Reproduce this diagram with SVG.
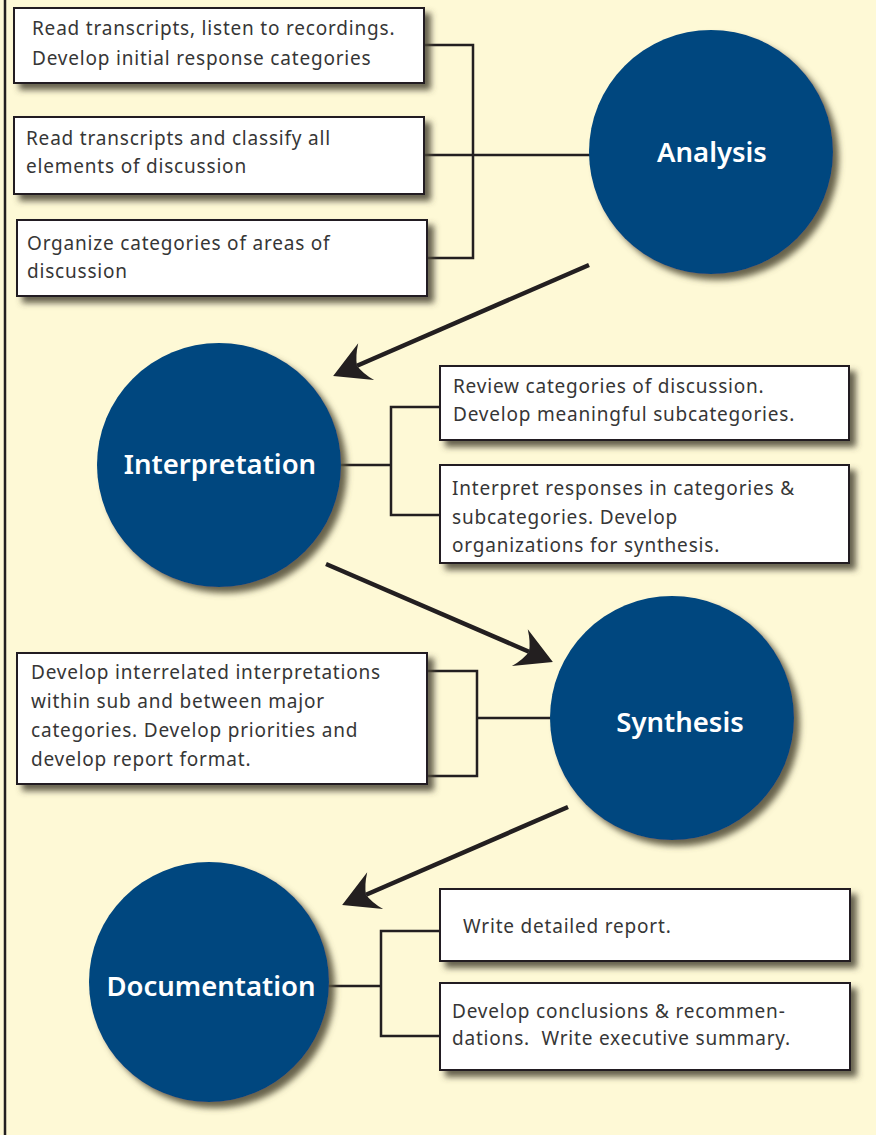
<svg xmlns="http://www.w3.org/2000/svg" width="876" height="1135" viewBox="0 0 876 1135">
<style>
.bg{fill:#FEF9D6}
.border{stroke:#231F20;stroke-width:2.5;fill:none}
.circ{fill:#03477F;filter:url(#cshadow)}
.box{fill:#FFFFFF;stroke:#231F20;stroke-width:2;filter:url(#bshadow)}
.ctext{font-family:"Noto Sans","Open Sans",sans-serif;font-size:27.5px;font-weight:600;fill:#FFFFFF;text-anchor:middle}
.btext{font-family:"Noto Sans","Open Sans",sans-serif;font-size:19px;fill:#363636;letter-spacing:0.8px}
.brk{stroke:#231F20;stroke-width:2.5;fill:none}
.arr{stroke:#231F20;stroke-width:4.5;fill:none;marker-end:url(#ah)}
</style>
<defs>
<filter id="cshadow" x="-20%" y="-20%" width="150%" height="150%">
<feGaussianBlur in="SourceAlpha" stdDeviation="3"/>
<feOffset dx="6" dy="6" result="b"/>
<feFlood flood-color="#57523C" flood-opacity="0.9"/>
<feComposite in2="b" operator="in"/>
<feMerge><feMergeNode/><feMergeNode in="SourceGraphic"/></feMerge>
</filter>
<filter id="bshadow" x="-10%" y="-20%" width="120%" height="150%">
<feGaussianBlur in="SourceAlpha" stdDeviation="3"/>
<feOffset dx="6" dy="6" result="b"/>
<feFlood flood-color="#4A4636" flood-opacity="0.85"/>
<feComposite in2="b" operator="in"/>
<feMerge><feMergeNode/><feMergeNode in="SourceGraphic"/></feMerge>
</filter>
<marker id="ah" viewBox="0 0 42 42" refX="15" refY="21" markerWidth="42" markerHeight="42" markerUnits="userSpaceOnUse" orient="auto">
<path d="M41,21 L5,1 Q13,12 15,21 Q13,30 5,41 Z" fill="#231F20"/>
</marker>
</defs>
<rect class="bg" x="0" y="0" width="876" height="1135"/>
<line class="border" x1="5" y1="0" x2="5" y2="1135"/>

<g id="connectors">
<path class="brk" d="M424,45 H473 V258 H427 M424,155 H592"/>
<path class="brk" d="M338,465 H391 M440,407 H391 V515 H440"/>
<path class="brk" d="M427,671 H477 V776 H427 M477,718 H553"/>
<path class="brk" d="M328,986 H381 M440,931 H381 V1036 H440"/>
<line class="arr" x1="589" y1="265" x2="357" y2="365.7"/>
<line class="arr" x1="326" y1="564" x2="529" y2="651.7"/>
<line class="arr" x1="568" y1="807" x2="366" y2="894.7"/>
</g>

<g id="analysis">
<circle class="circ" cx="711" cy="152" r="122"/>
<text class="ctext" x="712" y="162">Analysis</text>
</g>
<g id="interpretation">
<circle class="circ" cx="219" cy="465" r="122"/>
<text class="ctext" x="220" y="474">Interpretation</text>
</g>
<g id="synthesis">
<circle class="circ" cx="672" cy="718" r="122"/>
<text class="ctext" x="680" y="732">Synthesis</text>
</g>
<g id="documentation">
<circle class="circ" cx="209" cy="982" r="120"/>
<text class="ctext" x="211" y="996">Documentation</text>
</g>

<g id="box-a1">
<rect class="box" x="14" y="8" width="410" height="75"/>
<text class="btext" x="32" y="35">Read transcripts, listen to recordings.</text>
<text class="btext" x="32" y="65">Develop initial response categories</text>
</g>
<g id="box-a2">
<rect class="box" x="14" y="117" width="410" height="77"/>
<text class="btext" x="26" y="145">Read transcripts and classify all</text>
<text class="btext" x="26" y="173">elements of discussion</text>
</g>
<g id="box-a3">
<rect class="box" x="17" y="220" width="410" height="76"/>
<text class="btext" x="27" y="250">Organize categories of areas of</text>
<text class="btext" x="27" y="278">discussion</text>
</g>
<g id="box-i1">
<rect class="box" x="440" y="366" width="409" height="74"/>
<text class="btext" x="453" y="393">Review categories of discussion.</text>
<text class="btext" x="453" y="421">Develop meaningful subcategories.</text>
</g>
<g id="box-i2">
<rect class="box" x="440" y="465" width="409" height="98"/>
<text class="btext" x="452" y="495">Interpret responses in categories &amp;</text>
<text class="btext" x="452" y="524">subcategories. Develop</text>
<text class="btext" x="452" y="552">organizations for synthesis.</text>
</g>
<g id="box-s1">
<rect class="box" x="17" y="653" width="410" height="131"/>
<text class="btext" x="31" y="679">Develop interrelated interpretations</text>
<text class="btext" x="31" y="708">within sub and between major</text>
<text class="btext" x="31" y="737">categories. Develop priorities and</text>
<text class="btext" x="31" y="766">develop report format.</text>
</g>
<g id="box-d1">
<rect class="box" x="440" y="889" width="410" height="72"/>
<text class="btext" x="463" y="933">Write detailed report.</text>
</g>
<g id="box-d2">
<rect class="box" x="440" y="983" width="410" height="87"/>
<text class="btext" x="452" y="1018">Develop conclusions &amp; recommen-</text>
<text class="btext" x="452" y="1045">dations.&#160; Write executive summary.</text>
</g>
</svg>
